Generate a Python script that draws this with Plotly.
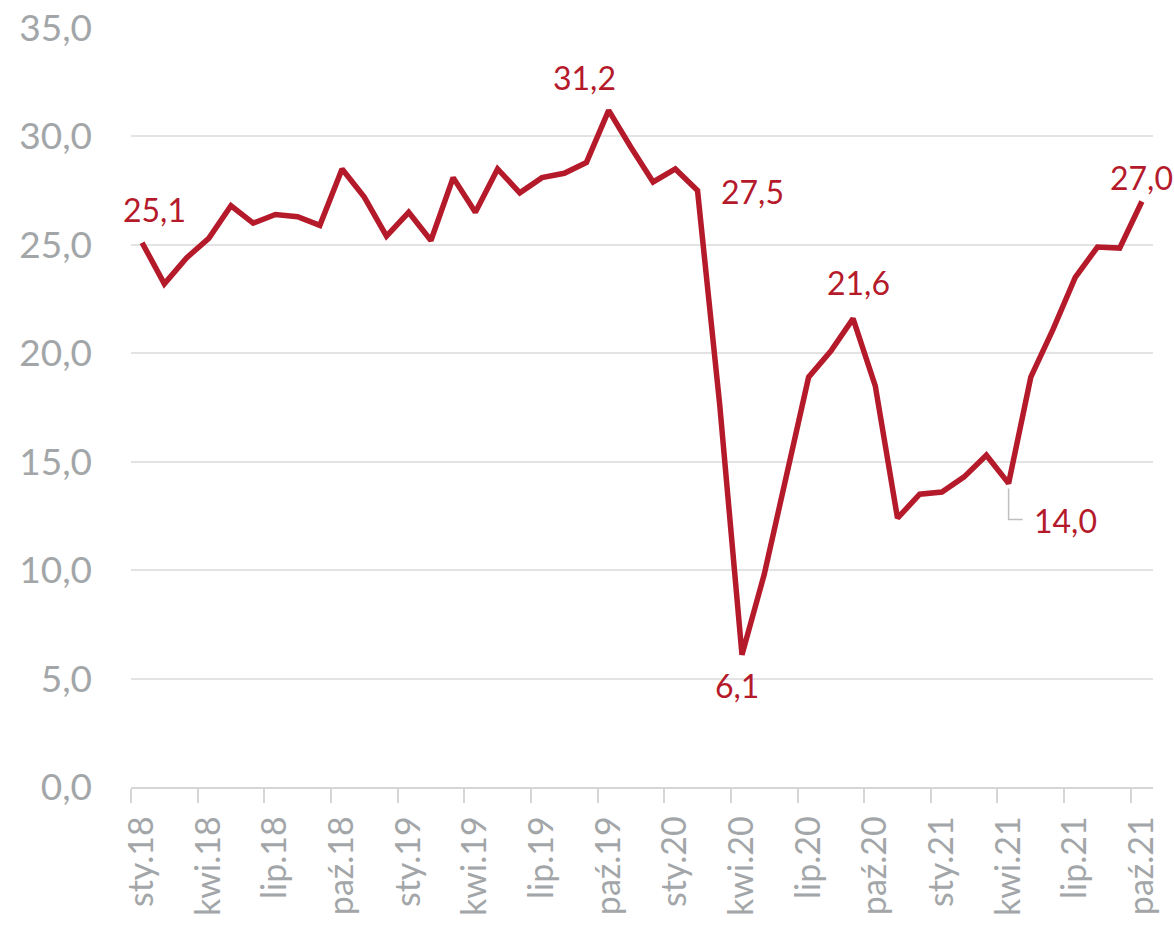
import plotly.graph_objects as go

# --- dane ------------------------------------------------------------------
MONTHS = ["sty", "lut", "mar", "kwi", "maj", "cze",
          "lip", "sie", "wrz", "paź", "lis", "gru"]
YEARS = ["18", "19", "20", "21"]
LABELS = [f"{m}.{y}" for y in YEARS for m in MONTHS][:46]  # sty.18 .. paź.21

VALUES = [
    25.1, 23.2, 24.4, 25.3, 26.8, 26.0, 26.4, 26.3, 25.9, 28.5, 27.2, 25.4,
    26.5, 25.2, 28.1, 26.5, 28.5, 27.4, 28.1, 28.3, 28.8, 31.2, 29.5, 27.9,
    28.5, 27.5, 17.6, 6.1, 9.8, 14.4, 18.9, 20.1, 21.6, 18.5, 12.4, 13.5,
    13.6, 14.3, 15.3, 14.0, 18.9, 21.1, 23.5, 24.9, 24.85, 27.0,
]

# etykiety przy wybranych punktach: indeks -> (xshift, yshift) w px
POINT_LABELS = {0: (12, 33), 21: (-24, 33), 25: (55, -1), 27: (-5, -31),
                32: (5, 36), 39: (57, -37), 45: (0, 24)}

# --- kolory ----------------------------------------------------------------
RED = "#B51A2B"
GREY_TXT = "#A3A6A8"
GRID = "#E3E3E3"
AXIS = "#D6D6D6"
FONT = "Lato, 'Open Sans', sans-serif"

x = list(range(len(VALUES)))
tick_idx = x[::3]

fig = go.Figure(
    go.Scatter(
        x=x,
        y=VALUES,
        mode="lines",
        line=dict(color=RED, width=5.5),
        hoverinfo="skip",
    )
)

for i, (dx, dy) in POINT_LABELS.items():
    fig.add_annotation(
        x=x[i], y=VALUES[i],
        text=f"{VALUES[i]:.1f}".replace(".", ","),
        showarrow=False,
        xshift=dx, yshift=dy,
        font=dict(family=FONT, size=32, color=RED),
    )

# linia odniesienia dla etykiety 14,0
fig.add_shape(
    type="path",
    xref="x", yref="y",
    xsizemode="pixel", ysizemode="pixel",
    xanchor=x[39], yanchor=VALUES[39],
    path="M0,-5 L0,-36 L14,-36",
    line=dict(color="#BFBFBF", width=1.5),
)

fig.update_layout(
    width=1174,
    height=925,
    margin=dict(l=131, r=21, t=28, b=138),
    paper_bgcolor="white",
    plot_bgcolor="white",
    showlegend=False,
    separators=", ",
    font=dict(family=FONT, color=GREY_TXT),
)
fig.update_xaxes(
    automargin=False,
    range=[-0.5, len(VALUES) - 0.5],
    tickmode="array",
    tickvals=tick_idx,
    ticktext=[LABELS[i] for i in tick_idx],
    tickangle=-90,
    tickfont=dict(family=FONT, size=34, color=GREY_TXT),
    ticks="",
    ticklabelstandoff=14,
    showgrid=False,
    showline=True,
    linecolor=AXIS,
    linewidth=1.5,
    zeroline=False,
    minor=dict(
        tickvals=[i - 0.5 for i in tick_idx],
        ticks="outside",
        ticklen=14,
        tickcolor=AXIS,
        tickwidth=1.5,
        showgrid=False,
    ),
)
fig.update_yaxes(
    automargin=False,
    range=[0, 35],
    dtick=5,
    tickformat=".1f",
    tickfont=dict(family=FONT, size=37, color=GREY_TXT),
    ticklabelstandoff=38,
    showgrid=True,
    gridcolor=GRID,
    gridwidth=1.5,
    zeroline=False,
    showline=False,
)

fig.write_html(
    "out.html",
    config={"displayModeBar": False},
    post_script="document.body.style.margin='0';document.body.style.overflow='hidden';",
)
